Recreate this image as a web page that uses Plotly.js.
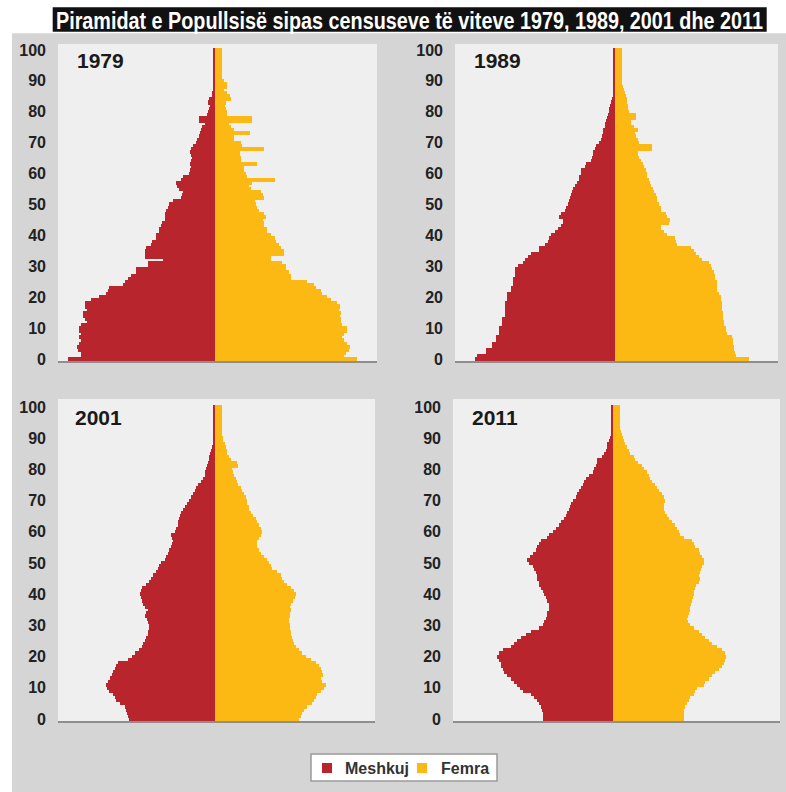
<!DOCTYPE html>
<html>
<head>
<meta charset="utf-8">
<script src="https://cdn.plot.ly/plotly-3.0.1.min.js"></script>
<style>
html,body{margin:0;padding:0;background:#ffffff;}
#chart{width:786px;height:792px;}
#chart .barlayer path{shape-rendering:crispEdges !important;}
</style>
</head>
<body>
<div id="chart"></div>
<script>
// ---- DATA (population by single year of age, thousands) ----
const ages = [0,1,2,3,4,5,6,7,8,9,10,11,12,13,14,15,16,17,18,19,20,21,22,23,24,25,26,27,28,29,30,31,32,33,34,35,36,37,38,39,40,41,42,43,44,45,46,47,48,49,50,51,52,53,54,55,56,57,58,59,60,61,62,63,64,65,66,67,68,69,70,71,72,73,74,75,76,77,78,79,80,81,82,83,84,85,86,87,88,89,90,91,92,93,94,95,96,97,98,99,100];
const years = ["1979", "1989", "2001", "2011"];
const seriesNames = ["Meshkuj", "Femra"];
const tickLabels = [0,10,20,30,40,50,60,70,80,90,100];
const chartTitle = "Piramidat e Popullsisë sipas censuseve të viteve 1979, 1989, 2001 dhe 2011";

const males1979 = [36.7,33.3,33.3,34.2,34.4,33.9,33.3,33.8,33.3,34.0,34.0,33.3,31.9,32.5,32.9,32.9,31.9,32.3,32.3,30.8,
  28.8,27.1,26.7,26.3,22.9,22.5,21.7,20.8,19.6,19.6,16.7,16.7,12.9,17.3,17.3,17.5,17.1,15.8,15.6,14.6,
  14.6,13.9,13.8,13.3,13.1,12.5,12.3,12.3,12.1,11.7,11.3,10.4,8.3,8.1,7.9,8.8,9.4,9.6,8.3,7.9,
  6.3,6.1,5.8,6.1,5.8,5.6,5.8,6.1,5.8,5.4,4.6,4.4,3.8,3.6,3.3,3.1,2.5,3.8,3.8,1.9,
  1.7,1.3,1.1,1.7,1.3,0.6,0.6,0.5,0.5,0.5,0.5,0.5,0.5,0.5,0.5,0.5,0.5,0.5,0.5,0.5,0.5];
const females1979 = [35.4,32.1,32.5,33.3,33.6,32.9,32.1,31.7,32.1,32.9,32.9,31.7,31.3,31.3,31.1,31.3,30.8,31.1,30.4,28.8,
  27.9,26.7,26.3,25.0,24.6,22.9,18.8,18.8,18.3,17.5,17.5,16.7,13.8,13.9,17.1,17.1,16.3,15.8,15.0,14.8,
  13.8,12.9,12.9,12.1,12.1,11.9,12.5,12.1,10.8,10.4,10.0,9.8,12.1,11.9,11.3,8.9,8.3,9.0,14.8,7.9,
  7.5,7.1,7.1,10.3,6.3,6.3,6.1,6.1,12.1,6.7,6.4,4.6,4.6,8.6,4.6,3.8,3.3,9.2,9.2,2.9,
  2.9,2.5,2.3,2.5,3.8,3.6,2.8,2.1,2.9,2.9,2.1,1.5,1.5,1.5,1.5,1.5,1.5,1.5,1.5,1.5,1.5];

const males1989 = [34.8,34.4,32.1,32.1,30.6,30.6,29.6,29.6,28.8,28.8,28.8,28.1,28.1,28.1,27.5,27.5,27.5,27.5,27.5,26.9,
  26.9,26.9,25.8,25.8,25.4,25.3,25.3,25.0,25.0,25.0,24.2,22.8,22.5,21.7,20.8,18.8,18.8,17.5,16.7,16.3,
  15.8,14.8,14.2,13.3,12.9,12.8,13.8,13.5,12.3,12.1,11.7,11.4,11.1,10.8,10.6,10.3,9.8,9.4,8.9,8.8,
  8.3,8.3,7.5,7.1,5.8,5.6,5.4,5.3,5.0,4.6,3.9,3.3,3.1,2.9,2.8,2.5,2.3,2.1,1.9,1.7,
  1.4,1.3,1.1,0.8,0.6,0.5,0.4,0.4,0.4,0.4,0.4,0.4,0.4,0.4,0.4,0.4,0.4,0.4,0.4,0.4,0.4];
const females1989 = [33.3,30.0,29.8,29.6,29.6,29.4,29.4,29.2,27.9,27.5,27.5,27.1,27.1,26.9,26.9,26.9,26.7,26.7,26.7,26.4,
  26.4,25.8,25.4,25.4,25.3,25.3,24.8,24.8,24.6,24.2,23.8,23.3,21.7,20.8,20.0,19.6,18.8,15.4,15.0,14.8,
  12.9,12.1,11.4,11.3,13.3,13.6,12.9,12.5,11.4,11.3,10.8,10.4,10.3,10.0,9.6,9.4,8.8,8.6,8.3,7.9,
  7.8,7.5,7.1,6.9,6.3,5.8,5.6,5.5,9.2,9.0,5.8,5.6,5.0,4.8,5.6,4.6,3.9,3.8,5.0,5.0,
  3.3,3.1,3.0,2.9,2.8,2.5,2.3,2.1,1.9,1.7,1.7,1.6,1.6,1.6,1.6,1.6,1.6,1.6,1.6,1.6,1.6];

const males2001 = [21.3,21.7,21.9,22.1,22.3,23.6,24.6,25.0,25.4,26.3,26.9,27.1,26.7,26.1,25.6,25.3,25.0,24.6,24.2,21.7,
  20.6,20.0,18.8,18.1,17.8,17.5,17.1,16.7,16.7,16.4,16.4,16.7,16.9,17.3,17.1,16.7,17.5,17.9,18.1,18.3,
  18.6,18.3,18.1,17.1,16.4,15.8,15.3,14.6,14.2,13.8,13.3,12.5,12.1,11.7,11.3,10.8,10.6,10.4,10.6,10.8,
  10.0,9.6,9.2,9.2,8.8,8.6,8.3,7.9,7.3,6.9,6.3,5.8,5.4,5.0,4.6,4.2,3.3,2.9,2.5,2.3,
  2.1,1.9,1.7,1.4,1.3,1.1,0.8,0.6,0.4,0.4,0.4,0.4,0.4,0.4,0.4,0.4,0.4,0.4,0.4,0.4,0.4];
const females2001 = [20.8,21.3,21.7,22.1,22.9,24.2,24.6,25.0,25.4,26.3,27.1,27.5,26.7,26.4,26.9,26.7,26.4,25.8,25.0,23.8,
  22.5,21.7,20.8,20.0,19.6,19.4,19.2,18.9,18.8,18.6,18.6,18.3,18.3,18.6,18.6,18.8,18.6,18.9,19.4,19.8,
  20.0,19.6,18.8,17.9,17.1,16.7,16.3,15.4,14.2,13.8,13.3,12.9,12.1,11.3,10.8,10.4,10.3,10.4,10.8,11.3,
  11.7,11.3,10.8,10.4,10.0,9.4,8.8,8.3,8.3,7.9,7.8,7.5,7.1,6.7,6.3,5.6,5.4,5.0,4.6,4.4,
  4.2,5.6,5.3,3.8,3.3,2.9,2.8,2.5,2.3,1.9,1.9,1.6,1.6,1.6,1.6,1.6,1.6,1.6,1.6,1.6,1.6];

const males2011 = [17.5,17.5,17.5,17.7,17.9,18.3,19.0,19.6,20.4,22.5,23.2,23.8,24.6,25.4,26.3,27.1,27.5,27.9,27.9,28.5,
  28.8,28.5,27.5,25.4,24.6,23.8,22.9,21.7,20.4,18.3,17.5,17.1,16.7,16.4,16.3,16.0,15.8,16.0,16.3,16.7,
  17.1,17.5,17.9,18.3,18.5,18.8,19.0,19.2,19.6,20.0,21.0,21.3,20.7,20.0,19.2,18.8,18.5,17.9,16.3,15.8,
  15.0,14.2,13.5,12.9,12.1,11.7,11.3,10.8,10.7,10.4,10.0,9.2,8.8,8.3,7.9,7.5,7.1,6.7,5.8,5.0,
  4.6,4.2,4.0,3.8,2.7,2.1,1.7,1.5,1.3,1.0,0.7,0.4,0.4,0.4,0.4,0.4,0.4,0.4,0.4,0.4,0.4];
const females2011 = [17.5,17.5,17.5,17.7,17.9,18.3,18.8,19.2,20.0,20.4,20.8,22.5,22.9,23.8,24.6,25.4,26.3,27.1,27.5,27.9,
  28.2,27.9,27.1,25.8,24.6,23.8,22.9,22.1,21.3,20.0,19.0,18.5,18.3,18.5,18.8,19.0,19.2,19.3,19.6,19.8,
  20.0,20.2,20.4,20.7,21.3,21.5,21.3,21.7,21.8,22.1,22.5,22.7,22.1,21.7,21.3,20.4,20.0,19.6,17.5,16.7,
  16.3,15.8,15.4,14.6,13.8,13.3,12.9,12.5,12.5,12.7,12.9,12.5,12.1,11.3,10.8,10.4,9.6,9.2,8.8,8.3,
  7.5,7.1,6.0,5.4,5.0,4.2,3.8,3.3,2.9,2.5,2.3,2.1,1.8,1.7,1.7,1.7,1.7,1.7,1.7,1.7,1.7];

const maleSeries = [males1979, males1989, males2001, males2011];
const femaleSeries = [females1979, females1989, females2001, females2011];

// ---- STYLE / LAYOUT ----
const W = 786, H = 792;
const RED = "#b8252c", YELLOW = "#fdb913";
const px = v => v / W;
const py = v => 1 - v / H;

// plot rectangles in pixels: [left, right, top, bottom], x range, y range
const panels = [
  {l: 58,  r: 377, t: 44,  b: 361, xr: [-39.25, 40.5],  yr: [-0.65, 101.94], lx: 75,  ly: 60.5},
  {l: 455, r: 778, t: 44,  b: 361, xr: [-40, 40.75],    yr: [-0.65, 101.94], lx: 472, ly: 60.5},
  {l: 58,  r: 375, t: 399, b: 721, xr: [-39.25, 40],    yr: [-0.64, 102.56], lx: 73,  ly: 417.5},
  {l: 453, r: 780, t: 399, b: 721, xr: [-40, 41.75],    yr: [-0.64, 102.56], lx: 470, ly: 417.5}
];

const traces = [];
const layout = {
  width: W, height: H,
  margin: {l: 0, r: 0, t: 0, b: 0, pad: 0},
  paper_bgcolor: "#d5d5d5",
  plot_bgcolor: "#efefef",
  showlegend: false,
  barmode: "overlay",
  bargap: 0,
  font: {family: "Liberation Sans, Arial, sans-serif", color: "#1e1e1e"},
  shapes: [],
  annotations: []
};

panels.forEach((p, i) => {
  const sfx = i === 0 ? "" : String(i + 1);
  const xa = "x" + sfx, ya = "y" + sfx;
  traces.push({
    type: "bar", orientation: "h", name: seriesNames[0],
    x: maleSeries[i].map(v => -v), y: ages, width: 1,
    xaxis: xa, yaxis: ya,
    marker: {color: RED, line: {color: RED, width: 1}},
    hoverinfo: "skip"
  });
  traces.push({
    type: "bar", orientation: "h", name: seriesNames[1],
    x: femaleSeries[i], y: ages, width: 1,
    xaxis: xa, yaxis: ya,
    marker: {color: YELLOW, line: {color: YELLOW, width: 1}},
    hoverinfo: "skip"
  });
  layout["xaxis" + sfx] = {
    domain: [px(p.l), px(p.r)], range: p.xr, anchor: ya,
    showticklabels: false, ticks: "", showgrid: false, zeroline: false,
    showline: true, linecolor: "#8e8e8e", linewidth: 2, layer: "below traces",
    fixedrange: true
  };
  layout["yaxis" + sfx] = {
    domain: [py(p.b), py(p.t)], range: p.yr, anchor: xa,
    tickmode: "array", tickvals: tickLabels, ticktext: tickLabels.map(String),
    ticks: "", showgrid: false, zeroline: false, showline: false,
    ticklabelstandoff: 11,
    tickfont: {family: "Liberation Sans, Arial, sans-serif", size: 16, color: "#222222", weight: "bold"},
    fixedrange: true
  };
  layout.annotations.push({
    xref: "paper", yref: "paper", x: px(p.lx), y: py(p.ly),
    xanchor: "left", yanchor: "middle", showarrow: false,
    text: years[i],
    font: {family: "Liberation Sans, Arial, sans-serif", size: 21, color: "#1a1a1a", weight: "bold"}
  });
});

// white margins (top strip and left strip)
layout.shapes.push({type: "rect", xref: "paper", yref: "paper", x0: 0, x1: 1, y0: py(33.3), y1: 1,
  fillcolor: "#ffffff", line: {width: 0}, layer: "below"});
layout.shapes.push({type: "rect", xref: "paper", yref: "paper", x0: 0, x1: px(12), y0: 0, y1: 1,
  fillcolor: "#ffffff", line: {width: 0}, layer: "below"});
// title box
layout.shapes.push({type: "rect", xref: "paper", yref: "paper", x0: px(52.7), x1: px(766.7), y0: py(31.7), y1: py(7.3),
  fillcolor: "#111111", line: {width: 0}, layer: "below"});
layout.annotations.push({
  xref: "paper", yref: "paper", x: px(409.5), y: py(20.5), xanchor: "center", yanchor: "middle",
  showarrow: false, text: chartTitle,
  font: {family: "Liberation Sans, Arial, sans-serif", size: 20, color: "#ffffff", weight: "bold"}
});

// legend box
layout.shapes.push({type: "rect", xref: "paper", yref: "paper", x0: px(311), x1: px(497), y0: py(781), y1: py(754),
  fillcolor: "#ffffff", line: {color: "#9a9a9a", width: 1.5}});
layout.shapes.push({type: "rect", xref: "paper", yref: "paper", x0: px(322), x1: px(332), y0: py(773), y1: py(763),
  fillcolor: RED, line: {width: 0}});
layout.shapes.push({type: "rect", xref: "paper", yref: "paper", x0: px(417), x1: px(427), y0: py(773), y1: py(763),
  fillcolor: YELLOW, line: {width: 0}});
layout.annotations.push({
  xref: "paper", yref: "paper", x: px(343), y: py(768), xanchor: "left", yanchor: "middle",
  showarrow: false, text: seriesNames[0],
  font: {family: "Liberation Sans, Arial, sans-serif", size: 16, color: "#333333", weight: "bold"}
});
layout.annotations.push({
  xref: "paper", yref: "paper", x: px(439), y: py(768), xanchor: "left", yanchor: "middle",
  showarrow: false, text: seriesNames[1],
  font: {family: "Liberation Sans, Arial, sans-serif", size: 16, color: "#333333", weight: "bold"}
});

Plotly.newPlot("chart", traces, layout, {staticPlot: true, displayModeBar: false}).then(gd => {
  // give the title the tall, condensed look of the reference band
  gd.querySelectorAll("text.annotation-text").forEach(t => {
    if (t.textContent === chartTitle) {
      t.setAttribute("textLength", "707");
      t.setAttribute("lengthAdjust", "spacingAndGlyphs");
      const bb = t.getBBox();
      const cy = bb.y + bb.height / 2;
      const prev = t.getAttribute("transform") || "";
      t.setAttribute("transform", prev + " translate(0," + cy + ") scale(1,1.22) translate(0," + (-cy) + ")");
    }
  });
});
</script>
</body>
</html>
